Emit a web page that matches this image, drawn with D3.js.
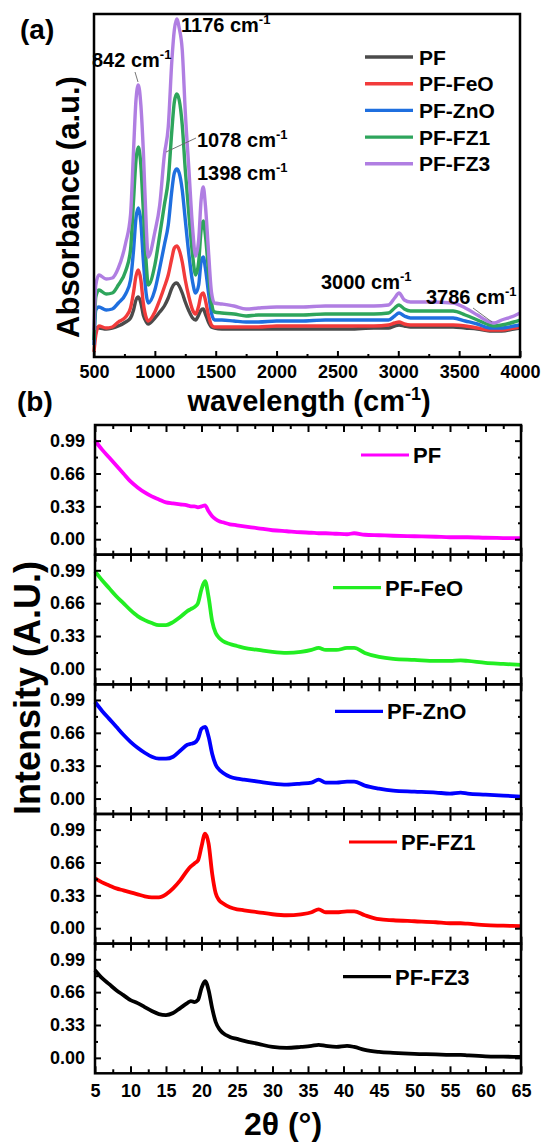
<!DOCTYPE html>
<html>
<head>
<meta charset="utf-8">
<script src="https://cdn.jsdelivr.net/npm/d3@7"></script>
<style>
body { margin: 0; background: #fff; }
text { font-family: "Liberation Sans", Arial, sans-serif; font-weight: bold; fill: #000; }
</style>
</head>
<body>
<script>
// ---- panel (a): FTIR absorbance, arbitrary units ----
var wavenumbers = [500, 515, 540, 600, 650, 700, 760, 800, 825, 845, 864, 885, 905, 930, 945, 1000, 1040, 1078, 1110, 1140,
  1160, 1180, 1200, 1225, 1250, 1280, 1310, 1335, 1360, 1380, 1398, 1415, 1440, 1465, 1490, 1550, 1650, 1750, 1850, 2000,
  2200, 2400, 2600, 2800, 2920, 2970, 3006, 3050, 3100, 3250, 3450, 3550, 3650, 3750, 3786, 3850, 3950, 4000];

var absPF  = [0.27, 0.29, 0.29, 0.28, 0.29, 0.31, 0.35, 0.39, 0.47, 0.57, 0.60, 0.54, 0.42, 0.35, 0.33, 0.39, 0.45, 0.51, 0.59, 0.69,
  0.73, 0.74, 0.71, 0.64, 0.55, 0.46, 0.39, 0.37, 0.42, 0.47, 0.48, 0.43, 0.35, 0.30, 0.29, 0.28, 0.28, 0.28, 0.28, 0.28,
  0.28, 0.28, 0.28, 0.29, 0.29, 0.31, 0.32, 0.31, 0.30, 0.30, 0.30, 0.29, 0.28, 0.26, 0.26, 0.26, 0.28, 0.29];
var absFeO = [0.05, 0.22, 0.31, 0.29, 0.30, 0.35, 0.40, 0.49, 0.65, 0.81, 0.87, 0.77, 0.54, 0.39, 0.36, 0.45, 0.57, 0.70, 0.82, 0.99,
  1.09, 1.11, 1.07, 0.95, 0.77, 0.60, 0.47, 0.43, 0.51, 0.62, 0.64, 0.57, 0.42, 0.32, 0.30, 0.30, 0.30, 0.30, 0.30, 0.31,
  0.31, 0.31, 0.31, 0.31, 0.32, 0.34, 0.35, 0.33, 0.32, 0.32, 0.32, 0.31, 0.29, 0.27, 0.27, 0.27, 0.29, 0.30];
var absZnO = [0.12, 0.47, 0.50, 0.47, 0.48, 0.54, 0.63, 0.77, 1.07, 1.39, 1.49, 1.35, 0.97, 0.62, 0.54, 0.67, 0.89, 1.12, 1.32, 1.67,
  1.84, 1.88, 1.84, 1.67, 1.37, 1.02, 0.75, 0.64, 0.72, 0.95, 1.00, 0.89, 0.65, 0.44, 0.37, 0.37, 0.36, 0.35, 0.35, 0.36,
  0.36, 0.37, 0.37, 0.37, 0.37, 0.41, 0.44, 0.41, 0.39, 0.39, 0.39, 0.36, 0.33, 0.29, 0.29, 0.29, 0.31, 0.32];
var absFZ1 = [0.17, 0.60, 0.67, 0.63, 0.64, 0.72, 0.86, 1.07, 1.57, 1.97, 2.10, 1.92, 1.47, 0.92, 0.72, 0.92, 1.22, 1.52, 1.77, 2.27,
  2.55, 2.63, 2.57, 2.32, 1.87, 1.42, 1.02, 0.82, 0.95, 1.27, 1.36, 1.22, 0.87, 0.55, 0.45, 0.44, 0.43, 0.41, 0.42, 0.42,
  0.42, 0.43, 0.43, 0.43, 0.44, 0.49, 0.52, 0.48, 0.46, 0.46, 0.46, 0.42, 0.37, 0.32, 0.31, 0.32, 0.35, 0.37];
var absFZ3 = [0.27, 0.72, 0.82, 0.78, 0.79, 0.89, 1.14, 1.42, 2.07, 2.57, 2.72, 2.52, 2.07, 1.29, 1.00, 1.25, 1.52, 2.02, 2.30, 2.97,
  3.27, 3.38, 3.29, 3.07, 2.45, 1.87, 1.29, 1.01, 1.17, 1.57, 1.70, 1.52, 1.07, 0.65, 0.54, 0.53, 0.51, 0.48, 0.49, 0.50,
  0.50, 0.51, 0.51, 0.51, 0.52, 0.59, 0.64, 0.57, 0.55, 0.55, 0.54, 0.49, 0.42, 0.35, 0.34, 0.37, 0.41, 0.44];

var ftirNames  = ["PF", "PF-FeO", "PF-ZnO", "PF-FZ1", "PF-FZ3"];
var ftirColors = ["#4b4b4b", "#f23b3b", "#1f6fdf", "#2ea55c", "#b07ee2"];
var ftirTicks  = [500, 1000, 1500, 2000, 2500, 3000, 3500, 4000];
var peakLabels = ["842", "1176", "1078", "1398", "3000", "3786"];

// ---- panel (b): XRD, normalised intensity ----
var angles = [5, 6, 7, 8, 9, 10, 11, 12, 13, 14, 15, 16, 17, 18, 18.5, 19, 19.5, 20, 20.5, 21, 21.5, 22, 22.5, 23, 24,
  25, 26, 28, 30, 32, 34, 35.5, 36.5, 37.5, 39, 40.5, 41.5, 43, 45, 47, 50, 53, 55, 56.5, 57.5, 60, 62.5, 65];

var xrdPF  = [0.99, 0.90, 0.82, 0.74, 0.66, 0.58, 0.52, 0.47, 0.43, 0.40, 0.37, 0.36, 0.35, 0.34, 0.33, 0.33, 0.32, 0.33, 0.34, 0.28, 0.23, 0.20, 0.18, 0.17, 0.15,
  0.14, 0.13, 0.11, 0.09, 0.08, 0.07, 0.065, 0.06, 0.06, 0.055, 0.05, 0.06, 0.045, 0.04, 0.035, 0.03, 0.025, 0.02, 0.02, 0.02, 0.015, 0.012, 0.01];
var xrdFeO = [0.98, 0.89, 0.81, 0.73, 0.66, 0.59, 0.53, 0.49, 0.46, 0.44, 0.44, 0.47, 0.52, 0.58, 0.60, 0.62, 0.66, 0.80, 0.88, 0.72, 0.48, 0.36, 0.31, 0.28, 0.25,
  0.23, 0.21, 0.19, 0.17, 0.16, 0.17, 0.19, 0.21, 0.19, 0.19, 0.21, 0.21, 0.16, 0.12, 0.10, 0.09, 0.08, 0.08, 0.085, 0.08, 0.06, 0.05, 0.04];
var xrdZnO = [0.97, 0.88, 0.80, 0.72, 0.64, 0.57, 0.51, 0.46, 0.42, 0.40, 0.40, 0.42, 0.48, 0.54, 0.55, 0.56, 0.60, 0.70, 0.72, 0.62, 0.45, 0.34, 0.29, 0.26, 0.22,
  0.20, 0.19, 0.17, 0.15, 0.14, 0.15, 0.16, 0.19, 0.16, 0.16, 0.17, 0.17, 0.13, 0.10, 0.08, 0.07, 0.06, 0.05, 0.06, 0.05, 0.04, 0.03, 0.02];
var xrdFZ1 = [0.50, 0.46, 0.43, 0.40, 0.38, 0.36, 0.34, 0.32, 0.31, 0.31, 0.34, 0.40, 0.48, 0.58, 0.62, 0.65, 0.68, 0.82, 0.95, 0.85, 0.55, 0.35, 0.28, 0.25, 0.21,
  0.19, 0.18, 0.16, 0.14, 0.13, 0.14, 0.16, 0.19, 0.16, 0.16, 0.17, 0.17, 0.13, 0.09, 0.08, 0.07, 0.06, 0.05, 0.05, 0.045, 0.03, 0.025, 0.02];
var xrdFZ3 = [0.88, 0.80, 0.74, 0.68, 0.63, 0.58, 0.55, 0.51, 0.47, 0.44, 0.43, 0.45, 0.50, 0.55, 0.57, 0.56, 0.58, 0.70, 0.77, 0.68, 0.50, 0.36, 0.29, 0.25, 0.21,
  0.19, 0.17, 0.14, 0.11, 0.10, 0.11, 0.12, 0.13, 0.12, 0.11, 0.12, 0.11, 0.08, 0.06, 0.05, 0.04, 0.035, 0.03, 0.03, 0.025, 0.015, 0.012, 0.01];

var xrdNames  = ["PF", "PF-FeO", "PF-ZnO", "PF-FZ1", "PF-FZ3"];
var xrdColors = ["#ff00ff", "#22ee22", "#0000ff", "#ff0000", "#000000"];
var xrdYTicks = [0, 0.33, 0.66, 0.99];
var xrdXTicks = [5, 10, 15, 20, 25, 30, 35, 40, 45, 50, 55, 60, 65];

var W = 544, H = 1142;
var svg = d3.select("body").append("svg").attr("width", W).attr("height", H);

// ================= panel (a) =================
var ax = {left: 94, right: 520, top: 14, bottom: 357};
var xA = d3.scaleLinear().domain([500, 4000]).range([ax.left, ax.right]);
var yA = d3.scaleLinear().domain([0, 3.43]).range([ax.bottom, ax.top]);

var gA = svg.append("g");
var ftirSeries = [absPF, absFeO, absZnO, absFZ1, absFZ3];
var lineA = d3.line().x(function(d, i) { return xA(wavenumbers[i]); }).y(function(d) { return yA(d); }).curve(d3.curveMonotoneX);

gA.selectAll("path.ftir").data(ftirSeries).enter().append("path")
  .attr("class", "ftir")
  .attr("d", lineA)
  .attr("fill", "none")
  .attr("stroke", function(d, i) { return ftirColors[i]; })
  .attr("stroke-width", 3.4)
  .attr("stroke-linejoin", "round");

// bottom axis, ticks point inwards
var axA = gA.append("g").attr("transform", "translate(0," + ax.bottom + ")")
  .call(d3.axisBottom(xA).tickValues(ftirTicks).tickSize(-6).tickPadding(8).tickFormat(d3.format("d")));
axA.selectAll("text").style("font-size", "18px");
axA.select(".domain").remove();
gA.append("g").attr("transform", "translate(0," + ax.bottom + ")")
  .call(d3.axisBottom(xA).tickValues(d3.range(750, 4000, 500)).tickSize(-3).tickFormat(""))
  .select(".domain").remove();
gA.selectAll(".tick line").attr("stroke-width", 2);

gA.append("rect").attr("x", ax.left).attr("y", ax.top)
  .attr("width", ax.right - ax.left).attr("height", ax.bottom - ax.top)
  .attr("fill", "none").attr("stroke", "#000").attr("stroke-width", 2.5);

// legend (a)
var legA = gA.selectAll("g.leg").data(ftirNames).enter().append("g").attr("class", "leg")
  .attr("transform", function(d, i) { return "translate(365," + (57 + i * 26.7) + ")"; });
legA.append("line").attr("x1", 0).attr("x2", 48)
  .attr("stroke", function(d, i) { return ftirColors[i]; }).attr("stroke-width", 3.4);
legA.append("text").attr("x", 54).attr("dy", "0.36em").style("font-size", "21px").text(function(d) { return d; });

// peak annotations
var annos = [
  {t: peakLabels[0], x: 92, y: 67, line: [135, 72, 138, 82]},
  {t: peakLabels[1], x: 181, y: 32},
  {t: peakLabels[2], x: 197, y: 147, line: [166, 152, 196, 138]},
  {t: peakLabels[3], x: 197, y: 180},
  {t: peakLabels[4], x: 321, y: 289},
  {t: peakLabels[5], x: 426, y: 304, line: [473, 308, 492, 322]}
];
annos.forEach(function(a) {
  var t = gA.append("text").attr("x", a.x).attr("y", a.y).style("font-size", "20px");
  t.append("tspan").text(a.t + " cm");
  t.append("tspan").attr("dy", -8).style("font-size", "13px").text("-1");
  if (a.line) {
    gA.append("line").attr("x1", a.line[0]).attr("y1", a.line[1]).attr("x2", a.line[2]).attr("y2", a.line[3])
      .attr("stroke", "#666").attr("stroke-width", 0.9);
  }
});

// axis titles (a)
var tA = gA.append("text").attr("x", (ax.left + ax.right) / 2 + 2).attr("y", 411).attr("text-anchor", "middle").style("font-size", "29px");
tA.append("tspan").text("wavelength (cm");
tA.append("tspan").attr("dy", -11).style("font-size", "18px").text("-1");
tA.append("tspan").attr("dy", 11).text(")");

gA.append("text").attr("transform", "translate(79,207) rotate(-90)")
  .attr("text-anchor", "middle").style("font-size", "31px").text("Absorbance (a.u.)");

svg.append("text").attr("x", 20).attr("y", 39).style("font-size", "28px").text("(a)");
svg.append("text").attr("x", 17).attr("y", 411).style("font-size", "28px").text("(b)");

// ================= panel (b) =================
var bx = {left: 95, right: 521, top: 425, bottom: 1073.3};
var ph = (bx.bottom - bx.top) / 5;
var xB = d3.scaleLinear().domain([5, 65]).range([bx.left, bx.right]);
var xrdSeries = [xrdPF, xrdFeO, xrdZnO, xrdFZ1, xrdFZ3];
var legPos = [[361, 30], [333, 33], [335, 27], [349, 28], [343, 33]];

xrdSeries.forEach(function(vals, k) {
  var top = bx.top + k * ph, bot = top + ph;
  var yB = d3.scaleLinear().domain([-0.155, 1.147]).range([bot, top]);
  var g = svg.append("g");

  g.append("path").datum(vals)
    .attr("d", d3.line().x(function(d, i) { return xB(angles[i]); }).y(function(d) { return yB(d); }).curve(d3.curveMonotoneX))
    .attr("fill", "none").attr("stroke", xrdColors[k]).attr("stroke-width", 3.8).attr("stroke-linejoin", "round");

  // y ticks left (labelled) and right, inward
  var yl = g.append("g").attr("transform", "translate(" + bx.left + ",0)")
    .call(d3.axisLeft(yB).tickValues(xrdYTicks).tickSize(-6).tickPadding(10).tickFormat(d3.format(".2f")));
  yl.selectAll("text").style("font-size", "18px");
  yl.select(".domain").remove();
  g.append("g").attr("transform", "translate(" + bx.left + ",0)")
    .call(d3.axisLeft(yB).tickValues([0.165, 0.495, 0.825]).tickSize(-3).tickFormat("")).select(".domain").remove();
  g.append("g").attr("transform", "translate(" + bx.right + ",0)")
    .call(d3.axisRight(yB).tickValues(xrdYTicks).tickSize(-6).tickFormat("")).select(".domain").remove();
  g.append("g").attr("transform", "translate(" + bx.right + ",0)")
    .call(d3.axisRight(yB).tickValues([0.165, 0.495, 0.825]).tickSize(-3).tickFormat("")).select(".domain").remove();

  // x ticks top and bottom, inward
  g.append("g").attr("transform", "translate(0," + top + ")")
    .call(d3.axisTop(xB).tickValues(xrdXTicks).tickSize(-7).tickFormat("")).select(".domain").remove();
  g.append("g").attr("transform", "translate(0," + top + ")")
    .call(d3.axisTop(xB).tickValues(d3.range(7.5, 65, 5)).tickSize(-4).tickFormat("")).select(".domain").remove();
  var xb = g.append("g").attr("transform", "translate(0," + bot + ")")
    .call(d3.axisBottom(xB).tickValues(xrdXTicks).tickSize(-7).tickPadding(11)
      .tickFormat(k === 4 ? d3.format("d") : ""));
  xb.selectAll("text").style("font-size", "18px");
  xb.select(".domain").remove();
  g.append("g").attr("transform", "translate(0," + bot + ")")
    .call(d3.axisBottom(xB).tickValues(d3.range(7.5, 65, 5)).tickSize(-4).tickFormat("")).select(".domain").remove();
  g.selectAll(".tick line").attr("stroke-width", 2);

  g.append("rect").attr("x", bx.left).attr("y", top).attr("width", bx.right - bx.left).attr("height", ph)
    .attr("fill", "none").attr("stroke", "#000").attr("stroke-width", 2.5);

  // legend
  var lg = g.append("g").attr("transform", "translate(" + legPos[k][0] + "," + (top + legPos[k][1]) + ")");
  lg.append("line").attr("x1", 0).attr("x2", 48).attr("stroke", xrdColors[k]).attr("stroke-width", 3.2);
  lg.append("text").attr("x", 52).attr("dy", "0.36em").style("font-size", "22px").text(xrdNames[k]);
});

svg.append("text").attr("x", 283).attr("y", 1135).attr("text-anchor", "middle").style("font-size", "32px").text("2θ (°)");
svg.append("text").attr("transform", "translate(40,688) rotate(-90)")
  .attr("text-anchor", "middle").style("font-size", "36px").text("Intensity (A.U.)");
</script>
</body>
</html>
